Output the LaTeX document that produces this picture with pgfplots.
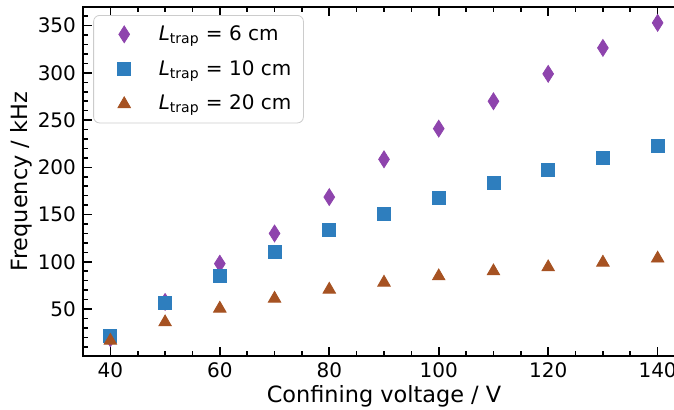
\documentclass[border=0pt]{standalone}
\usepackage{fontspec}
\setmainfont{DejaVu Sans}
\usepackage{pgfplots}
\pgfplotsset{compat=1.18}
\definecolor{cpurple}{RGB}{142,68,173}
\definecolor{cblue}{RGB}{46,126,190}
\definecolor{cbrown}{RGB}{166,82,34}
\begin{document}
\begin{tikzpicture}[font=\fontsize{10}{12}\selectfont]
\begin{axis}[
    scale only axis,
    width=301pt, height=174.5pt,
    xmin=35, xmax=145, ymin=0.2, ymax=369.8,
    xtick={40,60,...,140},
    ytick={50,100,...,350},
    minor xtick={45,50,55,65,70,75,85,90,95,105,110,115,125,130,135},
    minor ytick={10,20,30,40,60,70,80,90,110,120,130,140,160,170,180,190,210,220,230,240,260,270,280,290,310,320,330,340,360},
    tick align=inside,
    major tick length=4.5pt, minor tick length=2.5pt,
    every tick/.style={black, line width=0.8pt},
    axis line style={line width=1.1pt},
    /pgf/number format/assume math mode=true,
    xlabel={Confining voltage / V},
    ylabel={Frequency / kHz},
    label style={font=\fontsize{11.2}{13}\selectfont},
    xlabel style={yshift=3pt},
    ylabel style={yshift=-4pt},
    legend style={at={(0.017,0.977)}, anchor=north west, draw=black!20,
        rounded corners=3pt, row sep=4.5pt, inner xsep=4pt, inner ysep=3pt,
        cells={anchor=west}, font=\fontsize{10}{12}\selectfont},
    legend cell align=left,
    legend image code/.code={
        \path (0cm,0cm) (0.92cm,0cm);
        \draw[#1] plot coordinates {(0.39cm,0cm)};},
]
\addplot[only marks, mark=diamond*, mark size=4.2pt, color=cpurple,
    mark options={xscale=0.85}]
    coordinates {(40,19) (50,57.5) (60,98) (70,130) (80,168.5) (90,208.5)
                 (100,241) (110,270) (120,299) (130,326.5) (140,353)};
\addlegendentry{{\itshape L}\textsubscript{trap} = 6 cm}
\addplot[only marks, mark=square*, mark size=3.25pt, color=cblue]
    coordinates {(40,22) (50,56.5) (60,85) (70,110) (80,133.5) (90,150.7)
                 (100,167.7) (110,183.5) (120,197) (130,210.5) (140,222.5)};
\addlegendentry{{\itshape L}\textsubscript{trap} = 10 cm}
\addplot[only marks, mark=triangle*, mark size=3.6pt, color=cbrown]
    coordinates {(40,16.5) (50,36) (60,50.5) (70,61) (80,70.6) (90,78)
                 (100,84.7) (110,90) (120,94.3) (130,99.2) (140,103.5)};
\addlegendentry{{\itshape L}\textsubscript{trap} = 20 cm}
\end{axis}
% the reference is cut at the right just before the right spine
\pgfresetboundingbox
\path[use as bounding box]
    ([shift={(-41.5pt,-26.5pt)}]current axis.south west)
    rectangle ([shift={(295.5pt,3.5pt)}]current axis.north west);
\end{tikzpicture}
\end{document}
